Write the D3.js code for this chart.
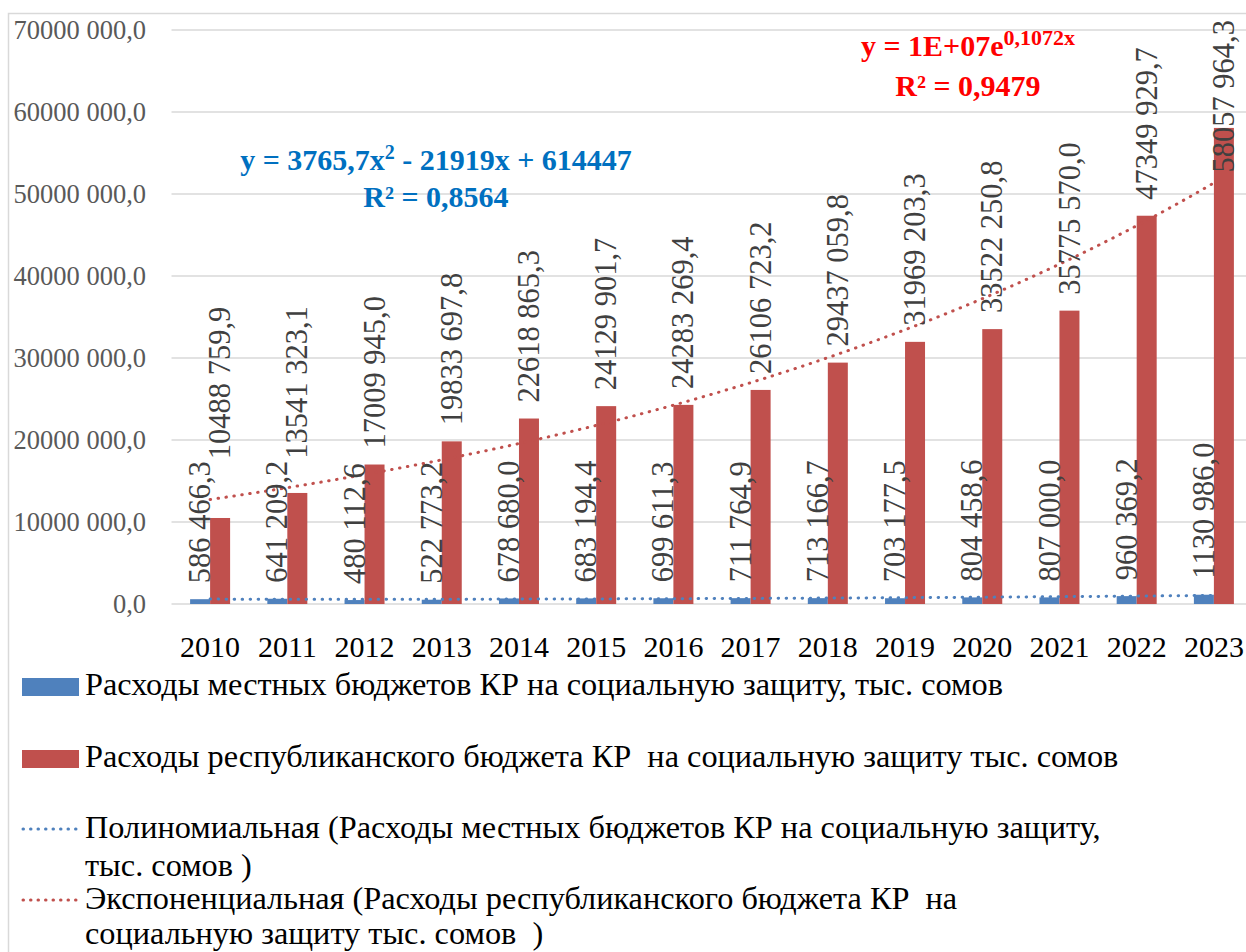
<!DOCTYPE html>
<html>
<head>
<meta charset="utf-8">
<script src="https://cdn.jsdelivr.net/npm/d3@7"></script>
<style>
  html, body { margin: 0; padding: 0; background: #fff; }
  svg { display: block; }
  svg text { font-family: 'Liberation Serif', 'Times New Roman', serif; }
</style>
</head>
<body>
<svg id="chart" width="1246" height="952"></svg>
<script>
// ---------------- DATA ----------------
const years = ["2010","2011","2012","2013","2014","2015","2016","2017","2018","2019","2020","2021","2022","2023"];
const localBudget = [586466.3, 641209.2, 480112.6, 522773.2, 678680.0, 683194.4, 699611.3, 711764.9, 713166.7, 703177.5, 804458.6, 807000.0, 960369.2, 1130986.0];
const republicanBudget = [10488759.9, 13541323.1, 17009945.0, 19833697.8, 22618865.3, 24129901.7, 24283269.4, 26106723.2, 29437059.8, 31969203.3, 33522250.8, 35775570.0, 47349929.7, 58057964.3];
const yTicks = [0, 10000000, 20000000, 30000000, 40000000, 50000000, 60000000, 70000000];
const seriesNames = ["local", "republican"];
const legendLabels = [
  ["Расходы местных бюджетов КР на социальную защиту, тыс. сомов"],
  ["Расходы республиканского бюджета КР  на социальную защиту тыс. сомов"],
  ["Полиномиальная (Расходы местных бюджетов КР на социальную защиту,", "тыс. сомов )"],
  ["Экспоненциальная (Расходы республиканского бюджета КР  на", "социальную защиту тыс. сомов  )"]
];
const polyEquation = ["y = 3765,7x", "2", " - 21919x + 614447"];
const polyR2 = "R² = 0,8564";
const expEquation = ["y = 1E+07e", "0,1072x"];
const expR2 = "R² = 0,9479";

// ---------------- STYLE ----------------
const colors = { local: "#4F81BD", republican: "#C0504D" };
const gridColor = "#D9D9D9";
const FONT = "'Liberation Serif', 'Times New Roman', serif";

const svg = d3.select("#chart");

function fmt(v) {
  const s = v.toFixed(1);
  let [ip, dp] = s.split(".");
  let out = ip;
  if (ip.length > 3) out = ip.slice(0, ip.length - 3) + " " + ip.slice(ip.length - 3);
  return out + "," + dp;
}

// ---------------- SCALES ----------------
const plot = { left: 171.5, right: 1252.5, top: 30, bottom: 604 };
const x0 = d3.scaleBand().domain(years).range([plot.left, plot.right]).paddingInner(0).paddingOuter(0);
const groupW = 40;
const x1 = d3.scaleBand().domain(seriesNames).range([-groupW / 2, groupW / 2]).padding(0);
const y = d3.scaleLinear().domain([0, 70000000]).range([plot.bottom, plot.top]);

// outer border
svg.append("path")
  .attr("d", `M8.5,952 L8.5,13.5 L1246,13.5`)
  .attr("fill", "none").attr("stroke", gridColor).attr("stroke-width", 1.5);

// gridlines
svg.append("g").selectAll("line").data(yTicks).join("line")
  .attr("x1", plot.left).attr("x2", 1246)
  .attr("y1", d => y(d)).attr("y2", d => y(d))
  .attr("stroke", gridColor).attr("stroke-width", 1.5);

// y axis labels
const yAxis = d3.axisLeft(y).tickValues(yTicks).tickFormat(fmt).tickSize(0).tickPadding(0);
const yg = svg.append("g").attr("transform", "translate(146,0)").call(yAxis);
yg.attr("font-family", null).attr("font-size", null);
yg.select(".domain").remove();
yg.selectAll("text").style("font-family", FONT).attr("font-size", 26.5).attr("fill", "#595959");

// x axis labels
const xAxis = d3.axisBottom(x0).tickSize(0).tickPadding(0);
const xg = svg.append("g").attr("transform", `translate(0,${plot.bottom})`).call(xAxis);
xg.attr("font-family", null).attr("font-size", null);
xg.select(".domain").remove();
xg.selectAll("text").style("font-family", FONT).attr("font-size", 30).attr("fill", "#000")
  .attr("dy", null).attr("y", 53);

// ---------------- BARS ----------------
const rows = years.map((yr, i) => ({ year: yr, local: localBudget[i], republican: republicanBudget[i] }));
const groups = svg.append("g").selectAll("g").data(rows).join("g")
  .attr("transform", d => `translate(${x0(d.year) + x0.bandwidth() / 2},0)`);
groups.selectAll("rect").data(d => seriesNames.map(k => ({ key: k, value: d[k] }))).join("rect")
  .attr("x", d => x1(d.key))
  .attr("width", x1.bandwidth())
  .attr("y", d => y(d.value))
  .attr("height", d => y(0) - y(d.value))
  .attr("fill", d => colors[d.key]);

// ---------------- TRENDLINES (least-squares fits of the data) ----------------
const xs = years.map((_, i) => i + 1);
function polyFit2(xv, yv) {
  let S = Array(5).fill(0), T = Array(3).fill(0);
  xv.forEach((xx, i) => {
    for (let k = 0; k < 5; k++) S[k] += Math.pow(xx, k);
    for (let k = 0; k < 3; k++) T[k] += yv[i] * Math.pow(xx, k);
  });
  const M = [[S[4], S[3], S[2], T[2]], [S[3], S[2], S[1], T[1]], [S[2], S[1], S[0], T[0]]];
  for (let i = 0; i < 3; i++) {
    for (let j = i + 1; j < 3; j++) {
      const f = M[j][i] / M[i][i];
      for (let k = i; k < 4; k++) M[j][k] -= f * M[i][k];
    }
  }
  const r = [0, 0, 0];
  for (let i = 2; i >= 0; i--) {
    let s = M[i][3];
    for (let k = i + 1; k < 3; k++) s -= M[i][k] * r[k];
    r[i] = s / M[i][i];
  }
  return r;
}
function expFit(xv, yv) {
  const ly = yv.map(Math.log);
  const mx = d3.mean(xv), my = d3.mean(ly);
  let num = 0, den = 0;
  xv.forEach((xx, i) => { num += (xx - mx) * (ly[i] - my); den += (xx - mx) * (xx - mx); });
  const b = num / den;
  const a = Math.exp(my - b * mx);
  return [a, b];
}
const [pa, pb, pc] = polyFit2(xs, localBudget);
const [ea, eb] = expFit(xs, republicanBudget);

const xPos = d3.scaleLinear().domain([1, years.length])
  .range([x0(years[0]) + x0.bandwidth() / 2, x0(years[years.length - 1]) + x0.bandwidth() / 2]);
const fineX = d3.range(1, years.length + 0.0001, 0.05);
const line = d3.line().x(d => xPos(d[0])).y(d => y(d[1]));

svg.append("path")
  .datum(fineX.map(t => [t, pa * t * t + pb * t + pc]))
  .attr("d", line).attr("fill", "none")
  .attr("stroke", colors.local).attr("stroke-width", 3)
  .attr("stroke-dasharray", "0.5 7.5").attr("stroke-linecap", "round");

svg.append("path")
  .datum(fineX.map(t => [t, ea * Math.exp(eb * t)]))
  .attr("d", line).attr("fill", "none")
  .attr("stroke", colors.republican).attr("stroke-width", 3)
  .attr("stroke-dasharray", "0.5 7.5").attr("stroke-linecap", "round");

// ---------------- DATA LABELS ----------------
const labelSize = 30.5;
const gap = 16;
const labelG = svg.append("g");
function addLabel(cx, startY, txt) {
  return labelG.append("text")
    .attr("transform", `translate(${cx},${startY}) rotate(-90)`)
    .attr("dy", "0.33em")
    .style("font-family", FONT)
    .attr("font-size", labelSize)
    .attr("fill", "#404040")
    .text(txt);
}
rows.forEach(d => {
  const c = x0(d.year) + x0.bandwidth() / 2;
  const cl = c + x1("local") + x1.bandwidth() / 2;
  const cr = c + x1("republican") + x1.bandwidth() / 2;
  const lStart = y(d.local) - gap;
  const lt = addLabel(cl, lStart, fmt(d.local));
  const lLen = lt.node().getComputedTextLength();
  const lTop = lStart - lLen;
  let rStart = y(d.republican) - gap;
  const rt = addLabel(cr, rStart, fmt(d.republican));
  const rLen = rt.node().getComputedTextLength();
  if (rStart > lTop - 2) rStart = lTop - 2;
  if (rStart - rLen < 20) rStart = 20 + rLen;
  rt.attr("transform", `translate(${cr},${rStart}) rotate(-90)`);
});

// ---------------- TRENDLINE EQUATIONS ----------------
const eqSize = 30;
const polyText = svg.append("text").attr("x", 436).attr("y", 170).attr("text-anchor", "middle")
  .style("font-family", FONT).attr("font-weight", "bold").attr("font-size", eqSize).attr("fill", "#0070C0");
polyText.append("tspan").text(polyEquation[0]);
polyText.append("tspan").attr("dy", -11).attr("font-size", 20).text(polyEquation[1]);
polyText.append("tspan").attr("dy", 11).text(polyEquation[2]);
svg.append("text").attr("x", 436).attr("y", 207).attr("text-anchor", "middle")
  .style("font-family", FONT).attr("font-weight", "bold").attr("font-size", eqSize).attr("fill", "#0070C0").text(polyR2);

const expText = svg.append("text").attr("x", 968).attr("y", 56).attr("text-anchor", "middle")
  .style("font-family", FONT).attr("font-weight", "bold").attr("font-size", eqSize).attr("fill", "#FF0000");
expText.append("tspan").text(expEquation[0]);
expText.append("tspan").attr("dy", -11).attr("font-size", 22).text(expEquation[1]);
svg.append("text").attr("x", 968).attr("y", 96).attr("text-anchor", "middle")
  .style("font-family", FONT).attr("font-weight", "bold").attr("font-size", eqSize).attr("fill", "#FF0000").text(expR2);

// ---------------- LEGEND ----------------
const legendFont = 32.3;
const legendItems = [
  { type: "rect", color: colors.local, baselines: [695] },
  { type: "rect", color: colors.republican, baselines: [767] },
  { type: "line", color: colors.local, baselines: [838, 876] },
  { type: "line", color: colors.republican, baselines: [909, 944] }
];
const lg = svg.append("g");
legendItems.forEach((it, i) => {
  const b0 = it.baselines[0];
  if (it.type === "rect") {
    lg.append("rect").attr("x", 22).attr("y", b0 - 17).attr("width", 57).attr("height", 18).attr("fill", it.color);
  } else {
    lg.append("line").attr("x1", 23).attr("x2", 77).attr("y1", b0 - 9).attr("y2", b0 - 9)
      .attr("stroke", it.color).attr("stroke-width", 3)
      .attr("stroke-dasharray", "0.5 7").attr("stroke-linecap", "round");
  }
  legendLabels[i].forEach((ln, j) => {
    lg.append("text").attr("x", 85).attr("y", it.baselines[j])
      .style("font-family", FONT).attr("font-size", legendFont).attr("fill", "#000")
      .style("white-space", "pre")
      .text(ln);
  });
});
</script>
</body>
</html>
